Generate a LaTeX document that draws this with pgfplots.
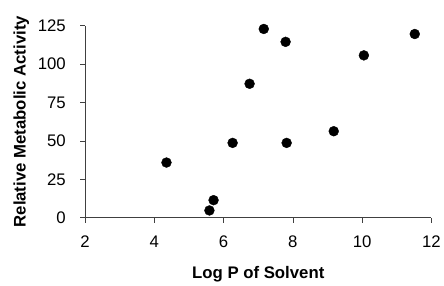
\documentclass[border=0pt]{standalone}
\usepackage{pgfplots}
\pgfplotsset{compat=1.18}
\usepackage{fontspec}
\setmainfont{Liberation Sans}
\begin{document}
\begin{tikzpicture}
\begin{axis}[name=ax, scale only axis, width=350bp, height=194bp,
  xmin=2, xmax=12, ymin=0, ymax=125,
  axis x line*=bottom, axis y line*=left,
  axis line style={black!75, line width=0.6pt},
  xtick={2,4,...,12}, ytick={0,25,...,125},
  tick align=outside, major tick length=5bp,
  tick style={black!75, line width=0.6pt},
  ticklabel style={font=\fontsize{17}{17}\selectfont},
  /pgf/number format/assume math mode=true,
  yticklabel style={xshift=-11bp},
  xticklabel style={yshift=-10bp},
  xlabel={Log P of Solvent}, ylabel={Relative Metabolic Activity},
  label style={font=\bfseries\fontsize{17}{17}\selectfont},
  xlabel style={at={(axis description cs:0.5,-0.3186)}, anchor=base},
  ylabel style={at={(axis description cs:-0.1714,0.5)}, anchor=base},
  clip=false]
\addplot[only marks, mark=*, mark size=5bp, black] coordinates {
  (7.16,122.9) (7.79,114.5) (11.52,119.6) (10.05,105.7) (6.75,87.2)
  (9.18,56.3) (6.26,48.7) (7.82,48.7) (4.35,35.9) (5.71,11.4) (5.59,4.7)
};
\end{axis}
\path[use as bounding box] ([shift={(-86bp,-65bp)}]ax.south west) rectangle ([shift={(8bp,26bp)}]ax.north east);
\end{tikzpicture}
\end{document}
